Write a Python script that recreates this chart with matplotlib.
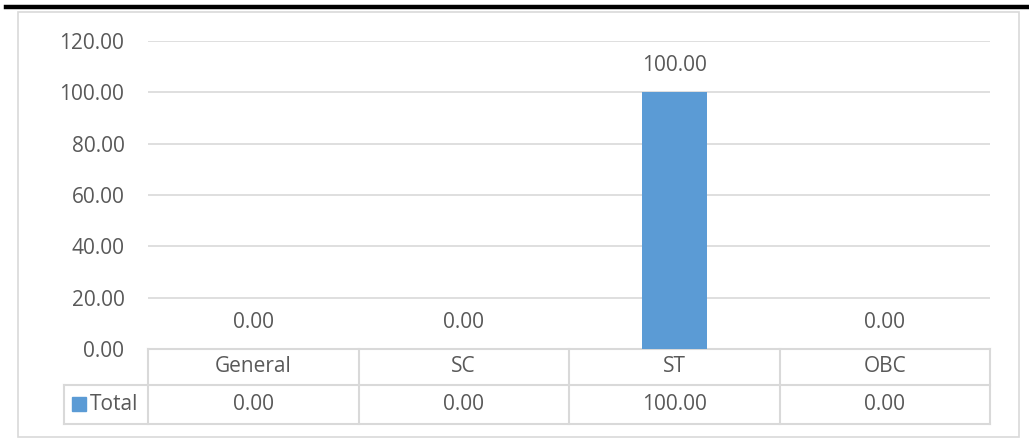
import matplotlib
matplotlib.use("Agg")
import matplotlib.pyplot as plt
from matplotlib.patches import Rectangle
from matplotlib.lines import Line2D

categories = ["General", "SC", "ST", "OBC"]
values = [0.00, 0.00, 100.00, 0.00]
series_name = "Total"
yticks = [0, 20, 40, 60, 80, 100, 120]

W, H = 1029, 446
plt.rcParams['font.family'] = ['Open Sans', 'DejaVu Sans']
txt = '#595959'
grid = '#d9d9d9'
bar_c = '#5b9bd5'
fs = 15

fig = plt.figure(figsize=(W/100, H/100), dpi=100)

def fx(px): return px / W
def fy(py): return 1 - py / H

# top black bar and outer border
fig.add_artist(Line2D([fx(6), fx(1029)], [fy(7), fy(7)], color='black', lw=3.2))
fig.add_artist(Rectangle((fx(18), fy(437)), fx(1019) - fx(18), fy(12) - fy(437),
                         fill=False, ec=grid, lw=1.2))

left, right, top, bottom = 148, 990, 41, 349
ax = fig.add_axes([fx(left), fy(bottom), fx(right) - fx(left), fy(top) - fy(bottom)])
x = list(range(len(categories)))
ax.bar(x, values, width=0.31, color=bar_c, zorder=3)
ax.set_xlim(-0.5, len(categories) - 0.5)
ax.set_ylim(0, 120)
ax.set_yticks(yticks)
ax.set_yticklabels([f"{v:.2f}" for v in yticks], color=txt, fontsize=fs)
ax.tick_params(axis='y', length=0, pad=17)
ax.set_xticks([])
for s in ax.spines.values():
    s.set_visible(False)
ax.grid(axis='y', color=grid, lw=1.2, zorder=0)
ax.set_axisbelow(True)

for xi, v in zip(x, values):
    ax.text(xi, v + 10.5, f"{v:.2f}", ha='center', va='center', color=txt, fontsize=fs)

# data table
aw = right - left
ah = bottom - top
def axx(px): return (px - left) / aw
def axy(py): return (bottom - py) / ah
tr = ax.transAxes
r0, r1, r2 = axy(349), axy(385), axy(424)
xl = axx(64)
lw_t = 1.5
ax.add_line(Line2D([0, 1], [r0, r0], transform=tr, color=grid, lw=lw_t, clip_on=False))
ax.add_line(Line2D([xl, 1], [r1, r1], transform=tr, color=grid, lw=lw_t, clip_on=False))
ax.add_line(Line2D([xl, 1], [r2, r2], transform=tr, color=grid, lw=lw_t, clip_on=False))
ax.add_line(Line2D([xl, xl], [r1, r2], transform=tr, color=grid, lw=lw_t, clip_on=False))
n = len(categories)
for i in range(n + 1):
    xx = i / n
    ax.add_line(Line2D([xx, xx], [r0, r2], transform=tr, color=grid, lw=lw_t, clip_on=False))
for i, (c, v) in enumerate(zip(categories, values)):
    xc = (i + 0.5) / n
    ax.text(xc, (r0 + r1) / 2, c, transform=tr, ha='center', va='center', color=txt, fontsize=fs)
    ax.text(xc, (r1 + r2) / 2, f"{v:.2f}", transform=tr, ha='center', va='center', color=txt, fontsize=fs)
# legend key
ax.add_patch(Rectangle((axx(72), axy(411)), axx(86) - axx(72), axy(397) - axy(411),
                       transform=tr, color=bar_c, clip_on=False))
ax.text(axx(90), (r1 + r2) / 2, series_name, transform=tr, ha='left', va='center',
        color=txt, fontsize=fs)

fig.savefig("out.png", dpi=100)
